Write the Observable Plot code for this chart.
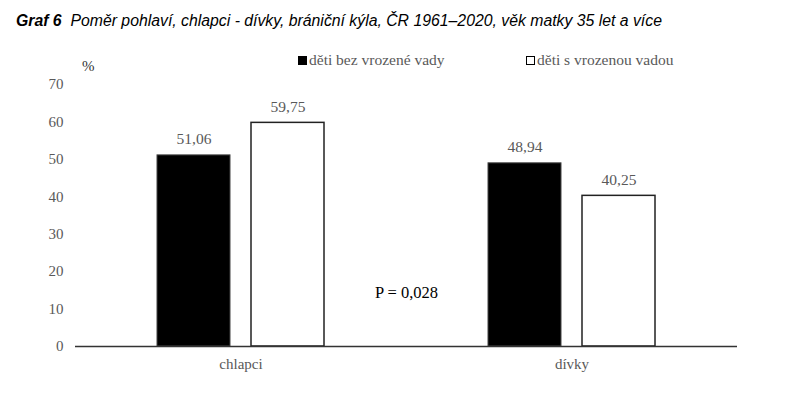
<!DOCTYPE html>
<html><head><meta charset="utf-8">
<script src="https://cdn.jsdelivr.net/npm/d3@7"></script>
<script src="https://cdn.jsdelivr.net/npm/@observablehq/plot@0.6"></script>
<style>
body{margin:0;background:#fff;}
#wrap{position:relative;width:800px;height:394px;overflow:hidden;}
#title{height:40px;box-sizing:border-box;padding:12px 0 0 16px;font-family:"Liberation Sans",Arial,sans-serif;font-style:italic;font-size:15.8px;color:#000;white-space:nowrap;}
#title b{font-weight:bold;}
.lg{position:absolute;font-family:"Liberation Serif","Times New Roman",serif;font-size:15.5px;color:#595959;white-space:nowrap;}
.sw{display:inline-block;width:9px;height:9px;box-sizing:border-box;margin-right:2px;vertical-align:0px;}
#pct{position:absolute;left:82px;top:58px;font-family:"Liberation Serif","Times New Roman",serif;font-size:15px;color:#333;}
</style></head>
<body><div id="wrap">
<div id="title"><b>Graf 6</b>&nbsp; Poměr pohlaví, chlapci - dívky, brániční kýla, ČR 1961–2020, věk matky 35 let a více</div>
<div id="pct">%</div>
<div id="legend"></div>
<div id="chart"></div>
</div>
<script>
const categories = ["chlapci", "dívky"];
const seriesNames = ["děti bez vrozené vady", "děti s vrozenou vadou"];
const valuesBez = [51.06, 48.94];
const valuesS = [59.75, 40.25];
const yTicks = [0, 10, 20, 30, 40, 50, 60, 70];
const pNote = "P = 0,028";
const pNoteY = 14.4;

const data = [];
categories.forEach((c, i) => {
  data.push({cat: c, series: seriesNames[0], value: valuesBez[i]});
  data.push({cat: c, series: seriesNames[1], value: valuesS[i]});
});
const fmt = v => d3.format(".2f")(v).replace(".", ",");
const serif = "Liberation Serif, Times New Roman, serif";

const chart = Plot.plot({
  width: 800,
  height: 354,
  marginTop: 44,
  marginBottom: 48,
  marginLeft: 74,
  marginRight: 63,
  style: {fontFamily: serif, fontSize: "15px", color: "#595959", background: "#fff"},
  fx: {domain: categories, padding: 0, axis: "bottom", label: null, tickSize: 0, tickPadding: 12},
  x: {domain: seriesNames, paddingInner: 0.221, paddingOuter: 0.863, axis: null},
  y: {domain: [0, 70], ticks: yTicks, label: null},
  color: {domain: seriesNames, range: ["#000", "#fff"]},
  marks: [
    Plot.axisY({ticks: yTicks, tickSize: 0, tickPadding: 12, label: null, fontSize: 15, fill: "#595959"}),
    Plot.barY(data, {fx: "cat", x: "series", y: "value", fill: "series", stroke: d => d.series === seriesNames[0] ? "#444" : "#222", strokeWidth: d => d.series === seriesNames[0] ? 1 : 1.5}),
    Plot.text(data, {fx: "cat", x: "series", y: "value", text: d => fmt(d.value), dy: -16, lineAnchor: "middle", fill: "#595959", fontSize: 15.5}),
    Plot.ruleY([0], {stroke: "#333", strokeWidth: 1.5}),
    Plot.ruleX([0], {fx: () => categories[0], frameAnchor: "left", stroke: "#333", strokeWidth: 1.5}),
    Plot.text([pNote], {fx: () => categories[0], frameAnchor: "right", y: () => pNoteY, text: d => d, textAnchor: "middle", fill: "#000", fontSize: 16.5})
  ]
});
document.getElementById("chart").appendChild(chart);

const lg = document.getElementById("legend");
const lgPos = [298, 526];
seriesNames.forEach((s, i) => {
  const d = document.createElement("div");
  d.className = "lg";
  d.style.left = lgPos[i] + "px";
  d.style.top = "51px";
  const sw = document.createElement("span");
  sw.className = "sw";
  sw.style.background = i === 0 ? "#000" : "#fff";
  sw.style.border = i === 0 ? "none" : "1.5px solid #000";
  d.appendChild(sw);
  d.appendChild(document.createTextNode(s));
  lg.appendChild(d);
});
</script>
</body></html>
